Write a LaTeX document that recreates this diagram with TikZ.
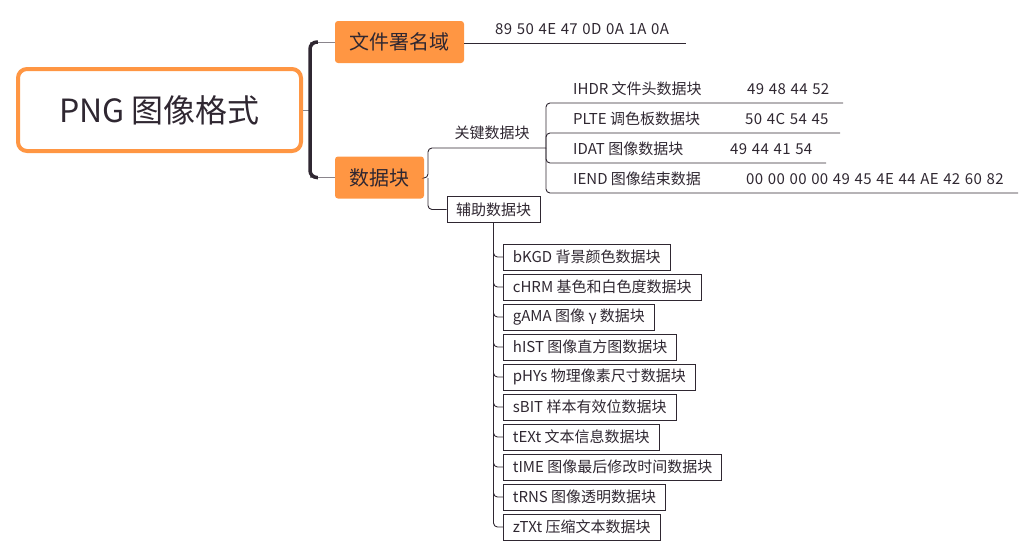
\documentclass[tikz,border=0pt]{standalone}
\usepackage{fontspec}
\setmainfont{Noto Sans CJK SC}
\newfontfamily\hexfont{Noto Sans CJK SC}[LetterSpace=2.5,WordSpace=1.25]
\usetikzlibrary{positioning}
\definecolor{topicorange}{HTML}{FF9643}
\definecolor{inkdark}{HTML}{2F2731}
\definecolor{stemgray}{HTML}{8A858C}

\begin{document}
\begin{tikzpicture}[x=1pt,y=-1pt,font=\fontsize{15}{18}\selectfont,
    every node/.style={text=inkdark},
    rootbox/.style={draw=topicorange,line width=4pt,rounded corners=9pt,minimum width=283pt,minimum height=82pt,font=\fontsize{32}{38}\selectfont},
    mainbox/.style={fill=topicorange,rounded corners=3pt,minimum height=42pt,font=\fontsize{20}{24}\selectfont},
    subbox/.style={draw=inkdark,line width=0.8pt,minimum height=26pt,inner ysep=0pt,inner xsep=9.5pt},
    hexlabel/.style={anchor=west,inner xsep=0pt,font=\hexfont\fontsize{15}{18}\selectfont},
    branch/.style={draw=inkdark,line width=0.9pt,rounded corners=4pt},
    stem/.style={draw=stemgray,line width=1pt},
    bracket/.style={draw=inkdark,line width=3.5pt,rounded corners=7pt}]
    \useasboundingbox (0,0) rectangle (1033,557);
    % root and first level
    \node[rootbox] (png) at (159.5,110) {PNG 图像格式};
    \node[mainbox,minimum width=129pt] (sig) at (399.5,42) {文件署名域};
    \node[mainbox,minimum width=89pt] (data) at (379.5,177.5) {数据块};
    \coordinate (brace) at (310,110);
    \draw[stem] (png.east) -- (brace);
    \draw[stem] (sig.west) -| (brace) |- (data.west);
    \draw[bracket] ([xshift=-17pt]sig.west) -| (brace) |- ([xshift=-17pt]data.west);
    % signature
    \coordinate (sigend) at (686,43);
    \draw[branch] (sig.east |- sigend) -- (sigend);
    \node[hexlabel] (sighex) at (495,29) {89 50 4E 47 0D 0A 1A 0A};
    % data chunks
    \coordinate (split) at (428,178);
    \coordinate (keyfork) at (546,148);
    \node[subbox,inner xsep=9pt] (aux) at (493.5,209.5) {辅助数据块};
    \node (keylabel) at (492,133) {关键数据块};
    \draw[branch] (data.east |- split) -- (split) |- (keyfork);
    \draw[branch] (split) |- (aux.west);
    % critical chunks
    \foreach \name/\hex/\hexx/\endx [count=\i from 0] in
        {IHDR 文件头数据块/49 48 44 52/747/843,
         PLTE 调色板数据块/50 4C 54 45/745/840,
         IDAT 图像数据块/49 44 41 54/730/826,
         IEND 图像结束数据/00 00 00 00 49 45 4E 44 AE 42 60 82/746/1018}{
        \coordinate (keyend\i) at (\endx,103+30*\i);
        \node[anchor=west,inner xsep=0pt] (keyname\i) at (573,89+30*\i) {\name};
        \node[hexlabel] (keyhex\i) at (\hexx,89+30*\i) {\hex};
        \draw[branch] (keyfork) |- (keyend\i);
    }
    % ancillary chunks
    \foreach \name [count=\i from 0] in
        {bKGD 背景颜色数据块,cHRM 基色和白色度数据块,gAMA 图像 γ 数据块,
         hIST 图像直方图数据块,pHYs 物理像素尺寸数据块,sBIT 样本有效位数据块,
         tEXt 文本信息数据块,tIME 图像最后修改时间数据块,tRNS 图像透明数据块,
         zTXt 压缩文本数据块}{
        \node[subbox,anchor=west] (aux\i) at (503,257+30*\i) {\name};
        \draw[branch] (aux.south) |- (aux\i.west);
    }
\end{tikzpicture}
\end{document}
